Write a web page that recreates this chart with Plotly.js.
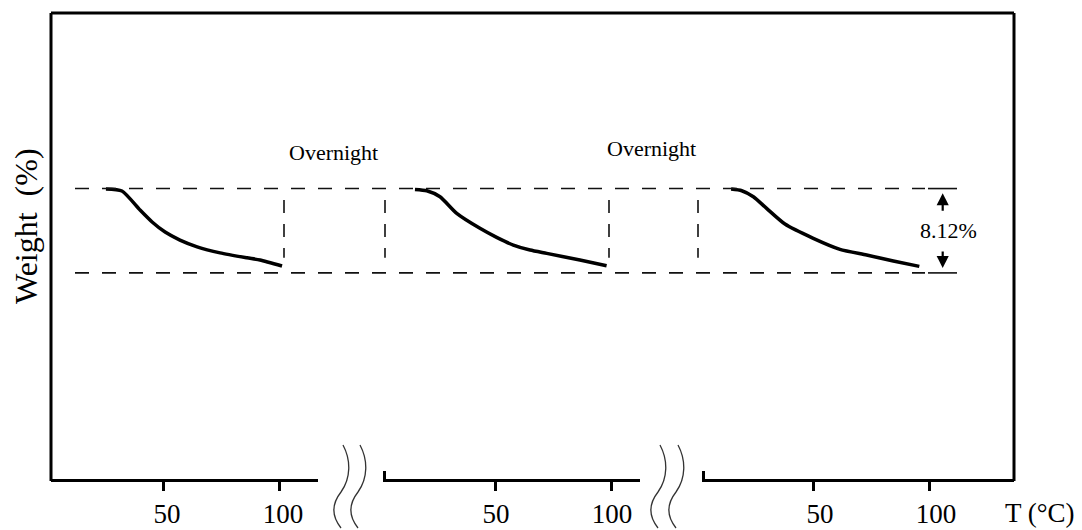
<!DOCTYPE html>
<html>
<head>
<meta charset="utf-8">
<script src="https://cdn.plot.ly/plotly-3.0.1.min.js"></script>
<style>html,body{margin:0;padding:0;background:#fff;}#chart{width:1082px;height:530px;}</style>
</head>
<body>
<div id="chart"></div>
<script>
// ---- data ----
const weightTop = 100;           // initial weight level (%)
const lossPct = 8.12;            // weight loss per run (%)
const weightBottom = weightTop - lossPct;

const run1T = [25.4, 32.3, 40.1, 45.3, 50.9, 57.3, 64.7, 74.6, 86.2, 91.8, 101.3];
const run1W = [99.95, 99.76, 97.93, 96.78, 95.81, 95.04, 94.39, 93.81, 93.33, 93.12, 92.54];

const run2T = [15.5, 20.6, 26.3, 33.5, 43.5, 50.7, 57.9, 65.1, 72.3, 86.6, 98.1];
const run2W = [99.92, 99.79, 99.21, 97.61, 96.17, 95.30, 94.56, 94.08, 93.76, 93.12, 92.57];

const run3T = [14.7, 19.3, 24.3, 30.0, 37.9, 50.1, 61.6, 73.1, 84.6, 95.8];
const run3W = [99.95, 99.79, 99.21, 98.09, 96.58, 95.21, 94.15, 93.60, 93.02, 92.51];

const tickVals = [50, 100];
const tickLabels = ['50', '100'];
const breakLabel = 'Overnight';
const yTitle = 'Weight&nbsp;&nbsp;(%)';
const xTitle = 'T (°C)';

// ---- layout helpers (pixel -> paper) ----
const W = 1082, H = 530;
const M = {l: 51, r: 68, t: 13, b: 51};
const PW = W - M.l - M.r, PH = H - M.t - M.b;
const px = X => (X - M.l) / PW;
const py = Y => (H - M.b - Y) / PH;

const FONT = '"Liberation Serif", "Times New Roman", serif';

const curveLine = {color: '#000', width: 3.5, shape: 'spline', smoothing: 0.6};
const traces = [
  {x: run1T, y: run1W, xaxis: 'x', yaxis: 'y', mode: 'lines', line: curveLine, hoverinfo: 'skip'},
  {x: run2T, y: run2W, xaxis: 'x2', yaxis: 'y', mode: 'lines', line: curveLine, hoverinfo: 'skip'},
  {x: run3T, y: run3W, xaxis: 'x3', yaxis: 'y', mode: 'lines', line: curveLine, hoverinfo: 'skip'}
];

function xAxis(domain, range, shift) {
  return {
    domain: domain, range: range, anchor: 'y',
    showline: true, linewidth: 3, linecolor: '#000',
    ticks: 'outside', ticklen: 9, tickwidth: 3, tickcolor: '#000',
    tickmode: 'array', tickvals: tickVals, ticktext: tickLabels,
    ticklabelshift: shift, ticklabelstandoff: 0,
    tickfont: {family: FONT, size: 27, color: '#000'},
    showgrid: false, zeroline: false, fixedrange: true
  };
}

const dom1 = [px(51), px(318)], dom2 = [px(383), px(640)], dom3 = [px(702), px(1014)];

const shapes = [];
const frame = {color: '#000', width: 3};
shapes.push({type: 'line', xref: 'paper', yref: 'paper', x0: 0, x1: 0, y0: py(481), y1: 1, line: frame});
shapes.push({type: 'line', xref: 'paper', yref: 'paper', x0: 0, x1: 1, y0: 1, y1: 1, line: frame});
shapes.push({type: 'line', xref: 'paper', yref: 'paper', x0: 1, x1: 1, y0: py(481), y1: 1, line: frame});
// up-ticks at the start of segments 2 and 3
[dom2[0], dom3[0]].forEach(d => {
  shapes.push({type: 'line', xref: 'paper', yref: 'paper', x0: d + 1.5 / PW, x1: d + 1.5 / PW, y0: py(480), y1: py(471), line: frame});
});
// horizontal dashed reference levels
const dashH = {color: '#111', width: 1.6, dash: '14px,13px'};
[weightTop, weightBottom].forEach(v => {
  shapes.push({type: 'line', xref: 'paper', yref: 'y', x0: px(75), x1: px(925), y0: v, y1: v, line: dashH});
  shapes.push({type: 'line', xref: 'paper', yref: 'y', x0: px(928), x1: px(957), y0: v, y1: v, line: {color: '#111', width: 1.6}});
});
// vertical dashed lines around the overnight breaks
const dashV = {color: '#111', width: 1.6, dash: '13px,11px'};
[284, 385, 609, 698].forEach(X => {
  shapes.push({type: 'line', xref: 'paper', yref: 'y', x0: px(X), x1: px(X), y0: weightTop - 1.1, y1: weightBottom + 1.45, line: dashV});
});
// axis-break wavy marks
function wave(X0) {
  const P = (X, Y) => px(X) + ' ' + py(Y);
  return 'M ' + P(X0, 445) + ' C ' + P(X0 + 8, 460) + ', ' + P(X0 + 8, 478) + ', ' + P(X0 - 2, 492) +
         ' C ' + P(X0 - 13, 506) + ', ' + P(X0 - 10, 518) + ', ' + P(X0 - 2, 528);
}
[343, 360, 660, 678].forEach(X0 => {
  shapes.push({type: 'path', xref: 'paper', yref: 'paper', path: wave(X0), line: {color: '#333', width: 1.3}});
});

const txt = (s) => ({family: FONT, size: s, color: '#000'});
const arrowStyle = {text: '', showarrow: true, arrowhead: 2, arrowsize: 1.1, arrowwidth: 2.2, arrowcolor: '#000', standoff: 0, axref: 'pixel', ayref: 'pixel'};
const annotations = [
  {xref: 'paper', yref: 'paper', x: px(333), y: py(153), text: breakLabel, showarrow: false, font: txt(22), xanchor: 'center', yanchor: 'middle'},
  {xref: 'paper', yref: 'paper', x: px(651), y: py(148), text: breakLabel, showarrow: false, font: txt(22), xanchor: 'center', yanchor: 'middle'},
  {xref: 'paper', yref: 'y', x: px(948), y: (weightTop + weightBottom) / 2, text: lossPct.toFixed(2) + '%', showarrow: false, font: txt(22), xanchor: 'center', yanchor: 'middle'},
  Object.assign({xref: 'paper', yref: 'y', x: px(942.7), y: weightTop - 0.45, ax: 0, ay: 19}, arrowStyle),
  Object.assign({xref: 'paper', yref: 'y', x: px(942.7), y: weightBottom + 0.47, ax: 0, ay: -18}, arrowStyle),
  {xref: 'paper', yref: 'paper', x: px(1040), y: py(513), text: xTitle, showarrow: false, font: txt(27), xanchor: 'center', yanchor: 'middle'},
  {xref: 'paper', yref: 'paper', x: px(26), y: py(226), text: yTitle, textangle: -90, showarrow: false, font: txt(32), xanchor: 'center', yanchor: 'middle'}
];

const layout = {
  width: W, height: H,
  margin: M,
  paper_bgcolor: '#fff', plot_bgcolor: '#fff',
  showlegend: false,
  font: {family: FONT, color: '#000'},
  xaxis: xAxis(dom1, [1.72, 116.8], 4),
  xaxis2: xAxis(dom2, [1.72, 112.5], 1),
  xaxis3: xAxis(dom3, [2.16, 136.6], 7),
  yaxis: {
    range: [72.04, 116.9], domain: [0, 1], anchor: 'x',
    showline: false, ticks: '', showticklabels: false,
    showgrid: false, zeroline: false, fixedrange: true
  },
  shapes: shapes,
  annotations: annotations
};

Plotly.newPlot('chart', traces, layout, {staticPlot: true, displayModeBar: false});
</script>
</body>
</html>
